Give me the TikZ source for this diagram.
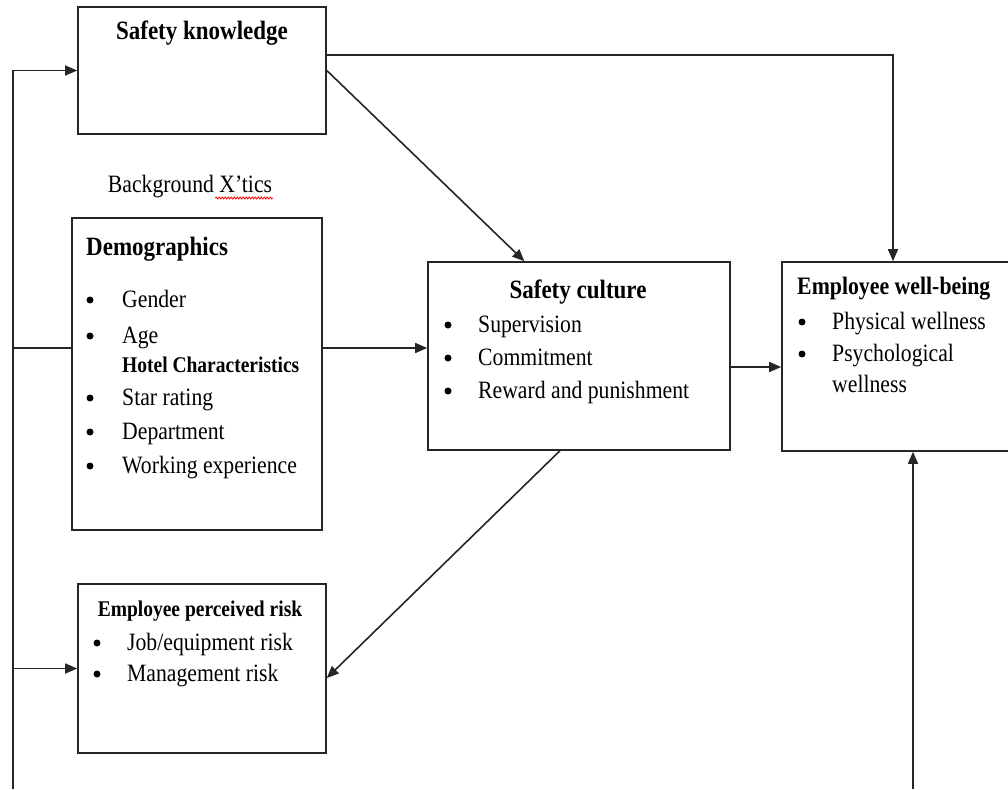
\documentclass[tikz,border=0pt]{standalone}
\usepackage{fontspec}
\setmainfont{Liberation Serif}
\usetikzlibrary{arrows.meta,calc,decorations.pathmorphing}

\newcommand{\tall}[1]{\scalebox{1}[1.15]{#1}}

\tikzset{
  box/.style={draw=black!85, line width=1.6pt, rectangle, inner sep=0pt},
  lin/.style={draw=black!85, line width=1.6pt},
  arr/.style={lin, -{Triangle[length=12pt,width=10pt]}},
  head/.style={font=\fontsize{23}{27}\selectfont\bfseries, inner sep=0pt},
  subhead/.style={font=\fontsize{19.5}{23}\selectfont\bfseries, inner sep=0pt},
  txt/.style={font=\fontsize{21.7}{26}\selectfont, inner sep=0pt},
  item/.style={txt, anchor=base west},
  dot/.style={circle, fill=black, inner sep=0pt, minimum size=7pt, yshift=7pt}
}

\begin{document}
\begin{tikzpicture}[x=1pt,y=-1pt]
    \clip (0,0) rectangle (1008,789);
    \fill[white] (0,0) rectangle (1008,789);

    % Boxes
    \node[box, minimum width=248pt, minimum height=127pt] (know) at (202,70.5) {};
    \node[box, minimum width=250pt, minimum height=312pt] (demo) at (197,374) {};
    \node[box, minimum width=302pt, minimum height=188pt] (culture) at (579,356) {};
    \node[box, minimum width=260pt, minimum height=189pt] (well) at (912,356.5) {};
    \node[box, minimum width=248pt, minimum height=169pt] (risk) at (202,668.5) {};

    % Safety knowledge
    \node[head, anchor=base] (know-t) at (202,40) {\tall{Safety knowledge}};

    % Background characteristics
    \node[txt, anchor=base] (bg) at (190,192) {\tall{Background X’tics}};
    \draw[red, line width=0.8pt, decorate, decoration={snake, amplitude=1pt, segment length=3pt}]
        ($(bg.base east)+(-57,6)$) -- ($(bg.base east)+(1,6)$);

    \node[head, anchor=base west] (demo-t) at (86,255) {\tall{Demographics}};
    \foreach \y/\t [count=\i] in {307/Gender, 343/Age, 405/Star rating, 439/Department, 473/Working experience} {
        \node[dot] (demo-b\i) at (90,\y) {};
        \node[item] (demo-\i) at (122,\y) {\tall{\t}};
    }
    \node[subhead, anchor=base west] (hotel) at (122,372) {\tall{Hotel Characteristics}};

    % Safety culture
    \node[head, anchor=base] (culture-t) at (578,298) {\tall{Safety culture}};
    \foreach \y/\t [count=\i] in {332/Supervision, 365/Commitment, 398/Reward and punishment} {
        \node[dot] (culture-b\i) at (448,\y) {};
        \node[item] (culture-\i) at (478,\y) {\tall{\t}};
    }

    % Employee well-being
    \node[head, font=\fontsize{21.8}{26}\selectfont\bfseries, anchor=base west] (well-t) at (797,294) {\tall{Employee well-being}};
    \foreach \y/\t [count=\i] in {329/Physical wellness, 361/Psychological} {
        \node[dot] (well-b\i) at (802,\y) {};
        \node[item] (well-\i) at (832,\y) {\tall{\t}};
    }
    \node[item] (well-3) at (832,392) {\tall{wellness}};

    % Employee perceived risk
    \node[subhead, anchor=base] (risk-t) at (200,616) {\tall{Employee perceived risk}};
    \foreach \y/\t [count=\i] in {650/{Job/equipment risk}, 681/{Management risk}} {
        \node[dot] (risk-b\i) at (97,\y) {};
        \node[item] (risk-\i) at (127,\y) {\tall{\t}};
    }

    % Connectors
    \coordinate (spine) at (13,789);
    \coordinate (dl) at (13,348);
    \coordinate (kw) at (893,55);
    \coordinate (cw) at (756,367);
    \coordinate (wb) at (913,789);

    \draw[arr] (spine) |- (know.west);
    \draw[lin] (dl) -- (dl -| demo.west);
    \draw[arr] (dl -| demo.east) -- (dl -| culture.west);
    \draw[arr] (spine |- risk.west) -- (risk.west);
    \draw[arr] (kw -| know.east) -- (kw) -- (kw |- well.north);
    \draw[arr] (know.east) -- ($(culture.north west)!0.32!(culture.north east)$);
    \draw[arr] (cw -| culture.east) -- (cw -| well.west);
    \draw[arr] ($(culture.south west)!0.437!(culture.south east)$) -- ($(risk.north east)!0.556!(risk.south east)$);
    \draw[arr] (wb) -- (wb |- well.south);
\end{tikzpicture}
\end{document}
